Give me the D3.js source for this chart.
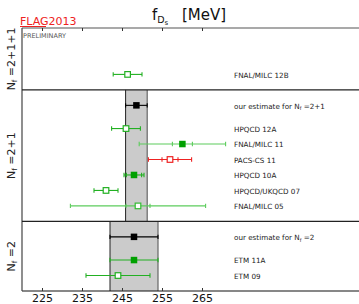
<!DOCTYPE html>
<html>
<head>
<meta charset="utf-8">
<script src="https://cdn.jsdelivr.net/npm/d3@7"></script>
<style>
  html, body { margin: 0; padding: 0; background: #fff; }
  svg { display: block; font-family: "DejaVu Sans", sans-serif; }
</style>
</head>
<body>
<svg id="chart" width="359" height="304"></svg>
<script>
// rows: position on the row axis (bottom = 0), value, total error, stat error (inner ticks)
const labels   = ['FNAL/MILC 12B', 'our estimate for Nf=2+1', 'HPQCD 12A', 'FNAL/MILC 11', 'PACS-CS 11',
                  'HPQCD 10A', 'HPQCD/UKQCD 07', 'FNAL/MILC 05', 'our estimate for Nf=2', 'ETM 11A', 'ETM 09'];
const rows     = [14, 12, 10.5, 9.5, 8.5, 7.5, 6.5, 5.5, 3.5, 2, 1];
const values   = [246.4, 248.6, 246.0, 260.1, 257.0, 248.0, 241.0, 249.0, 248.0, 248.0, 244.0];
const totalErr = [3.6, 2.7, 3.6, 10.8, 5.4, 2.5, 3.0, 16.9, 6.0, 6.0, 8.0];
const statErr  = [null, null, null, 2.5, 2.0, 1.9, null, 3.0, null, null, null];
const kinds    = ['open', 'estimate', 'open', 'filled', 'openred', 'filled', 'open', 'openlight', 'estimate', 'filled', 'open'];

// sections: [bottom, top] in row units
const sectionNames  = ['2', '2+1', '2+1+1'];
const sectionBounds = [[0, 4.5], [4.5, 13], [13, 17]];
// FLAG averages drawn as grey bands
const bandSection = [0, 1];
const bandValue   = [248, 248.6];
const bandErr     = [6, 2.7];

const xTicks = [225, 235, 245, 255, 265];

const svg = d3.select('#chart');
const pLeft = 22, pRight = 362, pTop = 28, pBottom = 291;

const x = d3.scaleLinear().domain([225, 265]).range([42, 202]);
const y = d3.scaleLinear().domain([0, 17]).range([pBottom, pTop]);

// bands
bandSection.forEach((s, i) => {
  const [b0, b1] = sectionBounds[s];
  const x0 = x(bandValue[i] - bandErr[i]), x1 = x(bandValue[i] + bandErr[i]);
  svg.append('rect')
    .attr('x', x0).attr('y', y(b1)).attr('width', x1 - x0).attr('height', y(b0) - y(b1))
    .attr('fill', '#cbcbcb');
  svg.append('line').attr('x1', x0).attr('x2', x0).attr('y1', y(b1)).attr('y2', y(b0))
    .attr('stroke', '#222').attr('stroke-width', 1);
  svg.append('line').attr('x1', x1).attr('x2', x1).attr('y1', y(b1)).attr('y2', y(b0))
    .attr('stroke', '#666').attr('stroke-width', 1.2);
});

// frame
svg.append('line').attr('x1', pLeft).attr('x2', pRight).attr('y1', pTop).attr('y2', pTop)
  .attr('stroke', '#555').attr('stroke-width', 1.2);
svg.append('line').attr('x1', pLeft).attr('x2', pRight).attr('y1', pBottom).attr('y2', pBottom)
  .attr('stroke', '#111').attr('stroke-width', 1.2);
svg.append('line').attr('x1', pLeft).attr('x2', pLeft).attr('y1', pTop).attr('y2', pBottom)
  .attr('stroke', '#444').attr('stroke-width', 1.2);
[4.5, 13].forEach(v => {
  svg.append('line').attr('x1', pLeft).attr('x2', pRight).attr('y1', y(v)).attr('y2', y(v))
    .attr('stroke', '#222').attr('stroke-width', 1.2);
});

// ticks (inward)
const bottomAxis = svg.append('g').attr('transform', `translate(0,${pBottom})`)
  .call(d3.axisBottom(x).tickValues(xTicks).tickSizeInner(-3).tickSizeOuter(0).tickPadding(3));
bottomAxis.select('.domain').remove();
bottomAxis.selectAll('line').attr('stroke', '#333');
bottomAxis.selectAll('text').attr('font-size', 11).attr('fill', '#111')
  .attr('font-family', '"DejaVu Sans", sans-serif');

const topAxis = svg.append('g').attr('transform', `translate(0,${pTop})`)
  .call(d3.axisTop(x).tickValues(xTicks).tickSizeInner(-3).tickSizeOuter(0).tickFormat(''));
topAxis.select('.domain').remove();
topAxis.selectAll('line').attr('stroke', '#333');

// section labels
sectionNames.forEach((name, i) => {
  const cy = (y(sectionBounds[i][0]) + y(sectionBounds[i][1])) / 2;
  const t = svg.append('text')
    .attr('transform', `translate(15,${cy}) rotate(-90)`)
    .attr('text-anchor', 'middle').attr('font-size', 11).attr('fill', '#222');
  t.append('tspan').text('N');
  t.append('tspan').attr('font-size', 7).attr('dy', 2).text('f');
  t.append('tspan').attr('dy', -2).text(' =' + name);
});

// error bars and markers
const colors = {
  open:      { line: '#22b022', stroke: '#22b022', fill: '#fff' },
  filled:    { line: '#22b022', stroke: '#00a000', fill: '#00a000' },
  openred:   { line: '#ee2222', stroke: '#ee2222', fill: '#fff' },
  openlight: { line: '#5ccc5c', stroke: '#33bb33', fill: '#fff' },
  estimate:  { line: '#000', stroke: '#000', fill: '#000' }
};
const lineColor = i => (labels[i] === 'FNAL/MILC 11' ? '#5ccc5c' : colors[kinds[i]].line);

values.forEach((v, i) => {
  const cy = y(rows[i]);
  const c = colors[kinds[i]];
  const lc = lineColor(i);
  const g = svg.append('g');
  g.append('line').attr('x1', x(v - totalErr[i])).attr('x2', x(v + totalErr[i]))
    .attr('y1', cy).attr('y2', cy).attr('stroke', lc).attr('stroke-width', 1.1);
  [v - totalErr[i], v + totalErr[i]].forEach(e => {
    g.append('line').attr('x1', x(e)).attr('x2', x(e)).attr('y1', cy - 2.2).attr('y2', cy + 2.2)
      .attr('stroke', lc).attr('stroke-width', 1.1);
  });
  if (statErr[i] != null) {
    [v - statErr[i], v + statErr[i]].forEach(e => {
      g.append('line').attr('x1', x(e)).attr('x2', x(e)).attr('y1', cy - 2.2).attr('y2', cy + 2.2)
        .attr('stroke', lc).attr('stroke-width', 1.1);
    });
  }
  const solid = kinds[i] === 'estimate' || kinds[i] === 'filled';
  const s = solid ? 6.5 : 5.6;
  g.append('rect').attr('x', x(v) - s / 2).attr('y', cy - s / 2).attr('width', s).attr('height', s)
    .attr('fill', c.fill).attr('stroke', c.stroke).attr('stroke-width', solid ? 0 : 1.2);
});

// row labels
labels.forEach((lab, i) => {
  const t = svg.append('text').attr('x', 234).attr('y', y(rows[i]) + 3.2)
    .attr('font-size', 7.2).attr('fill', '#222');
  const m = lab.match(/^(.*)Nf=(.*)$/);
  if (m) {
    t.append('tspan').text(m[1] + 'N');
    t.append('tspan').attr('font-size', 5).attr('dy', 1.5).text('f');
    t.append('tspan').attr('dy', -1.5).text(' =' + m[2]);
  } else {
    t.text(lab);
  }
});

// title
const title = svg.append('text').attr('x', 152).attr('y', 20).attr('font-size', 15).attr('fill', '#111');
title.append('tspan').text('f');
title.append('tspan').attr('font-size', 9.5).attr('dy', 3).text('D');
title.append('tspan').attr('font-size', 7).attr('dy', 2).text('s');
title.append('tspan').attr('x', 182).attr('dy', -5).text('[MeV]');

// FLAG logo
svg.append('text').attr('x', 20).attr('y', 25).attr('font-size', 11).attr('fill', '#ee2222')
  .text('FLAG2013');
svg.append('line').attr('x1', 20).attr('x2', 46).attr('y1', 26.5).attr('y2', 26.5)
  .attr('stroke', '#ee2222').attr('stroke-width', 1);

svg.append('text').attr('x', 23).attr('y', 37.5).attr('font-size', 6.5).attr('fill', '#555')
  .text('PRELIMINARY');
</script>
</body>
</html>
